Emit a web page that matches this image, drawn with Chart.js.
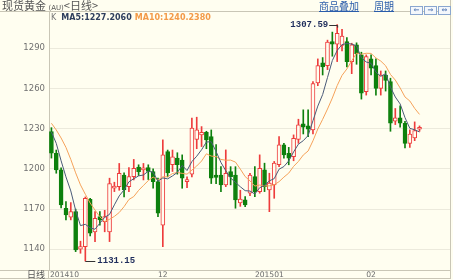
<!DOCTYPE html>
<html>
<head>
<meta charset="utf-8">
<script src="https://cdn.jsdelivr.net/npm/chart.js@4.4.1/dist/chart.umd.min.js"></script>
<style>
    html, body { margin: 0; padding: 0; background: #fffef0; }
    #wrap { position: relative; width: 453px; height: 280px; overflow: hidden; background: #fffef0; }
    #kline { position: absolute; left: 0; top: 0; }
    .hd { position: absolute; white-space: nowrap; line-height: 11px; }
    #title { left: 2px; top: 0; font-size: 11px; font-family: "Noto Sans CJK SC"; color: #555; }
    #title small { font-size: 7px; font-family: "DejaVu Sans"; }
    .lnk { top: 0; font-size: 10px; font-family: "Noto Sans CJK SC"; color: #2a5caa; text-decoration: underline; }
    #btns { left: 410px; top: 1px; }
    #btns span { display: inline-block; width: 11px; height: 7px; margin-right: 1px; border: 1px solid #8aa6cf;
        font: 7px/7px "DejaVu Sans"; color: #3a64a8; text-align: center; background: #f4f7fb; }
    #legend { left: 51px; top: 12px; font-size: 8px; font-family: "DejaVu Sans"; }
    #legend b { margin-left: 5px; }
</style>
</head>
<body>
<div id="wrap">
    <canvas id="kline" width="453" height="280"></canvas>
    <div class="hd" id="title">现货黄金 <small>(AU)</small>&lt;日线&gt;</div>
    <div class="hd lnk" style="left:319px">商品叠加</div>
    <div class="hd lnk" style="left:374px">周期</div>
    <div class="hd" id="btns"><span>&lArr;</span><span>&rArr;</span><span>&hArr;</span></div>
    <div class="hd" id="legend"><span style="color:#777">K</span><b id="ma5txt" style="color:#2f3f5e"></b><b id="ma10txt" style="color:#f39a48;margin-left:3px"></b></div>
</div>
<script>
// trading days shown (spot gold, daily candles)
const days = ['20141029','20141030','20141031','20141103','20141104','20141105','20141106','20141107',
    '20141110','20141111','20141112','20141113','20141114','20141117','20141118','20141119','20141120',
    '20141121','20141124','20141125','20141126','20141127','20141128','20141201','20141202','20141203',
    '20141204','20141205','20141208','20141209','20141210','20141211','20141212','20141215','20141216',
    '20141217','20141218','20141219','20141222','20141223','20141224','20141226','20141229','20141230',
    '20141231','20150102','20150105','20150106','20150107','20150108','20150109','20150112','20150113',
    '20150114','20150115','20150116','20150119','20150120','20150121','20150122','20150123','20150126',
    '20150127','20150128','20150129','20150130','20150202','20150203','20150204','20150205','20150206',
    '20150209','20150210','20150211','20150212','20150213','20150216'];
const spareSlots = ['', '', '', '', '', ''];   // empty room on the right of the last candle

const opens = [1227.8,1211.6,1199.2,1170.6,1163.9,1168,1140,1142,1177.3,1153,1164.3,1160.6,1153,1185.5,1186.7,
    1195.4,1186.7,1194.2,1201.2,1199.2,1201,1197.9,1190.4,1158,1212.8,1203,1208,1206.6,1190.4,1196,1222,
    1225.3,1227.2,1224,1195.4,1195.4,1188,1197.9,1195.4,1174.5,1176.8,1181.8,1194.2,1183,1199.2,1184.3,
    1188,1203,1217.8,1211.6,1209,1222,1233.5,1232,1229,1264,1279,1277,1295,1293,1292,1295,1280,1292.5,
    1285,1257.6,1282,1277,1260,1270,1265,1235.5,1238,1234,1219,1223,1229.5];
const highs = [1230.7,1214,1200.7,1175.5,1174.8,1169.9,1146,1179,1178,1168,1168,1169,1193,1190,1204,
    1197,1201,1207,1203,1204,1203,1200,1193,1221.6,1214,1214,1212,1210.4,1194,1237.8,1238.5,
    1231.5,1228,1229,1218,1201.6,1214.1,1201.6,1201.6,1184,1179.3,1196.7,1201.6,1210.4,1204.2,1196.7,
    1205.5,1224,1219,1216,1225.3,1237,1244,1244,1265,1282,1283,1296,1302,1307.59,1304,1298,1293.7,1294,
    1287,1285,1285,1282,1273,1273,1267.6,1245,1247,1235.5,1229,1235,1232];
const lows = [1208,1196.7,1170.8,1161.9,1161.9,1138.2,1137,1131.15,1150,1145.7,1158,1153,1145.7,1183,1184,
    1179,1183,1191.7,1195,1191.7,1192,1185.5,1164.3,1141.9,1194,1198,1196,1185.5,1186,1194,1215,
    1216.6,1215,1189,1189,1183,1186.7,1188,1170.6,1172,1171.8,1180,1179.3,1181.8,1183,1168,
    1178,1201.6,1207.9,1203,1206,1219,1226,1224,1226,1262,1270,1274,1284,1280,1288,1276,1271,1278,
    1252,1255,1270,1255,1255,1258,1228,1233,1231,1215.5,1216,1221,1228];
const closes = [1211.6,1199.2,1173,1165.6,1168.1,1139.5,1142,1178,1152,1163,1161.9,1164.3,1189,1187.2,1196.7,
    1184.3,1194.2,1200.4,1197.9,1200.4,1198,1190.4,1166.9,1210.4,1197,1209,1203,1193,1191.7,1230.3,1229,
    1227.2,1221.6,1193,1193.6,1188,1196.7,1194.2,1176.8,1177.5,1173.1,1195.4,1183,1200.4,1186.7,1189.3,
    1204.2,1217.8,1210.4,1208,1222.8,1232.8,1231,1229.5,1263.5,1277,1276,1294.5,1293,1301,1299,1280,1292.5,1286,
    1256.4,1283.8,1275,1260,1270,1266,1234,1238,1234,1219,1226,1228.5,1230];

// moving averages as drawn on the chart
const ma5 = [1227.5,1219,1206,1194,1183.5,1169.1,1157.6,1158.6,1155.9,1154.9,1159.4,1163.8,1166,1173.1,1179.8,
    1184.3,1190.3,1192.6,1194.7,1195.4,1198.2,1197.4,1190.7,1193.2,1192.5,1194.7,1197.3,1202.5,1198.7,1205.4,
    1209.4,1214.2,1220,1220.2,1212.9,1204.7,1198.6,1193.1,1189.9,1186.6,1183.7,1183.4,1181.2,1185.9,1187.7,
    1191,1192.7,1199.7,1201.7,1205.9,1212.6,1218.4,1221,1224.8,1235.9,1246.8,1255.4,1268.1,1280.8,1288.3,
    1292.7,1293.5,1293.1,1291.7,1282.8,1279.7,1278.7,1272.2,1269,1271,1261,1253.6,1248.4,1238.2,1230.2,1229.1,1227.5];
const ma10 = [1234,1229,1223,1216,1207,1197,1188,1181,1174.5,1169.2,1164.2,1160.7,1162.3,1164.5,1167.4,
    1171.8,1177.1,1179.3,1183.9,1187.6,1191.2,1193.9,1191.6,1194,1194,1196.5,1197.3,1196.6,1196,1199,
    1202.1,1205.8,1211.2,1209.5,1209.1,1207,1206.4,1206.5,1205,1199.8,1194.2,1191,1187.1,1187.9,1187.2,
    1187.3,1188.1,1190.4,1193.8,1196.8,1201.8,1205.5,1210.3,1213.3,1220.9,1229.7,1236.9,1244.6,1252.8,1262.1,
    1269.7,1274.5,1280.6,1286.3,1285.5,1286.2,1286.1,1282.7,1280.4,1276.9,1270.4,1266.2,1260.3,1253.6,1250.6,1245.1,1240.6];
const legendVals = [1227.2060, 1240.2380];

const yTicks = [1140, 1170, 1200, 1230, 1260, 1290];
const xTickIdx = [0, 23, 45, 66];
const xTickText = ['201410', '12', '201501', '02'];

const bg = '#fffef0';
const upColor = '#ee3c3c';
const downColor = '#0d800d';
const isUp = closes.map((c, i) => c >= opens[i]);

document.getElementById('ma5txt').textContent = 'MA5:' + legendVals[0].toFixed(4);
document.getElementById('ma10txt').textContent = 'MA10:' + legendVals[1].toFixed(4);

// frame, x labels and the high/low notes
const decor = {
    id: 'decor',
    afterDraw(chart) {
        const ctx = chart.ctx;
        const area = chart.chartArea;
        const xs = chart.scales.x;
        const ys = chart.scales.y;
        ctx.save();
        ctx.strokeStyle = '#c9c6b6';
        ctx.lineWidth = 1;
        ctx.beginPath();
        ctx.moveTo(0, 11.5); ctx.lineTo(451, 11.5);
        ctx.moveTo(0, Math.round(area.bottom) + 0.5); ctx.lineTo(451, Math.round(area.bottom) + 0.5);
        ctx.moveTo(Math.round(area.left) - 0.5, area.bottom); ctx.lineTo(Math.round(area.left) - 0.5, 279);
        ctx.moveTo(450.5, 0); ctx.lineTo(450.5, 279);
        ctx.moveTo(0, 278.5); ctx.lineTo(451, 278.5);
        ctx.stroke();

        // x labels
        ctx.fillStyle = '#6c6c6c';
        ctx.font = '7.6px "DejaVu Sans"';
        ctx.textBaseline = 'middle';
        xTickIdx.forEach((idx, k) => {
            const px = xs.getPixelForValue(idx);
            ctx.textAlign = k === 0 ? 'left' : 'center';
            ctx.fillText(xTickText[k], k === 0 ? area.left + 1 : px, area.bottom + 5);
        });
        ctx.textAlign = 'left';
        ctx.fillStyle = '#555';
        ctx.font = '9px "Noto Sans CJK SC"';
        ctx.fillText('日线', 27, area.bottom + 5);

        // highest high / lowest low notes
        const hi = highs.indexOf(Math.max(...highs));
        const lo = lows.indexOf(Math.min(...lows));
        ctx.font = 'bold 9px "Liberation Mono"';
        ctx.fillStyle = '#1f2d5c';
        ctx.strokeStyle = '#333';
        let px = xs.getPixelForValue(hi), py = ys.getPixelForValue(highs[hi]);
        ctx.beginPath();
        ctx.moveTo(px - 8, Math.round(py) + 0.5); ctx.lineTo(px + 0.5, Math.round(py) + 0.5); ctx.lineTo(px + 0.5, py + 3);
        ctx.stroke();
        ctx.textAlign = 'right';
        ctx.fillText(highs[hi].toFixed(2), px - 9, py);
        px = xs.getPixelForValue(lo); py = ys.getPixelForValue(lows[lo]);
        ctx.beginPath();
        ctx.moveTo(px, Math.round(py) + 0.5); ctx.lineTo(px + 10, Math.round(py) + 0.5);
        ctx.stroke();
        ctx.textAlign = 'left';
        ctx.fillText(lows[lo].toFixed(2), px + 12, py);
        ctx.restore();
    }
};

new Chart(document.getElementById('kline').getContext('2d'), {
    type: 'bar',
    data: {
        labels: days.concat(spareSlots),
        datasets: [
            {
                type: 'line', label: 'MA5', data: ma5, borderColor: '#4a5a78', borderWidth: 1,
                pointRadius: 0, tension: 0, order: 0
            },
            {
                type: 'line', label: 'MA10', data: ma10, borderColor: '#f5a25a', borderWidth: 1,
                pointRadius: 0, tension: 0, order: 0
            },
            {
                label: 'body', data: opens.map((o, i) => [o, closes[i]]),
                backgroundColor: isUp.map(u => u ? bg : downColor),
                borderColor: isUp.map(u => u ? upColor : downColor),
                borderWidth: 1, borderSkipped: false, barThickness: 4, minBarLength: 2,
                grouped: false, order: 1
            },
            {
                label: 'wick', data: lows.map((l, i) => [l, highs[i]]),
                backgroundColor: isUp.map(u => u ? upColor : downColor),
                barThickness: 1, grouped: false, order: 2
            }
        ]
    },
    options: {
        responsive: false,
        animation: false,
        layout: { padding: { top: 12, right: 2, bottom: 10, left: 0 } },
        plugins: { legend: { display: false }, tooltip: { enabled: false } },
        scales: {
            x: { display: false, offset: true },
            y: {
                min: 1124.5, max: 1317,
                afterBuildTicks: s => { s.ticks = yTicks.map(v => ({ value: v })); },
                afterFit: s => { s.width = 49; },
                grid: { color: '#eceadc', drawTicks: false },
                border: { color: '#c9c6b6' },
                ticks: {
                    color: '#707070', font: { family: 'DejaVu Sans', size: 8.5 }, padding: 4,
                    callback: v => String(v)
                }
            }
        }
    },
    plugins: [decor]
});
</script>
</body>
</html>
